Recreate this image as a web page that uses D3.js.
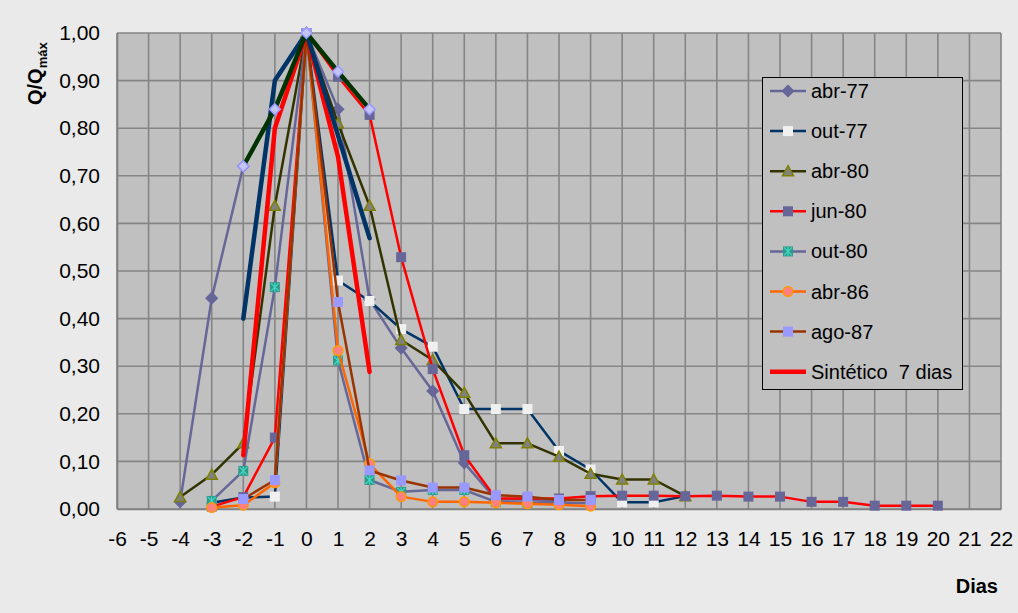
<!DOCTYPE html>
<html><head><meta charset="utf-8">
<script src="https://cdn.jsdelivr.net/npm/d3@7"></script>
<style>
body{margin:0;background:#eaeaea}
svg{display:block}
text{font-family:"Liberation Sans",Arial,sans-serif;fill:#000}
</style>
</head><body>
<svg id="chart" width="1018" height="613"></svg>
<script>
// Ticks
const xTickValues = d3.range(-6, 23);
const yTickValues = d3.range(0, 11).map(i => i / 10);
const yTickLabels = ["0,00","0,10","0,20","0,30","0,40","0,50","0,60","0,70","0,80","0,90","1,00"];

// Dimensionless hydrographs Q/Qmáx by day relative to the peak
const abr77Days = [-4,-3,-2,-1,0,1,2,3,4,5,6,7,8];
const abr77 = [0.015,0.443,0.72,0.84,1,0.84,0.44,0.338,0.248,0.097,0.02,0.02,0.015];

const out77Days = [-3,-2,-1,0,1,2,3,4,5,6,7,8,9,10,11,12];
const out77 = [0.013,0.024,0.026,1,0.48,0.437,0.378,0.341,0.21,0.21,0.21,0.122,0.083,0.014,0.014,0.027];

const abr80Days = [-4,-3,-2,-1,0,1,2,3,4,5,6,7,8,9,10,11,12];
const abr80 = [0.025,0.072,0.138,0.637,1,0.81,0.637,0.355,0.313,0.244,0.138,0.138,0.11,0.074,0.062,0.062,0.027];

const jun80Days = [-3,-2,-1,0,1,2,3,4,5,6,7,8,9,10,11,12,13,14,15,16,17,18,19,20];
const jun80 = [0.005,0.025,0.15,1,0.908,0.828,0.529,0.294,0.113,0.022,0.022,0.022,0.027,0.028,0.028,0.027,0.028,0.026,0.026,0.015,0.015,0.007,0.007,0.007];

const out80Days = [-3,-2,-1,0,1,2,3,4,5,6,7,8,9];
const out80 = [0.017,0.08,0.466,1,0.312,0.061,0.036,0.04,0.04,0.015,0.013,0.013,0.012];

const abr86Days = [-3,-2,-1,0,1,2,3,4,5,6,7,8,9];
const abr86 = [0.003,0.008,0.055,1,0.333,0.095,0.026,0.015,0.015,0.013,0.011,0.009,0.006];

const ago87Days = [-2,-1,0,1,2,3,4,5,6,7,8,9];
const ago87 = [0.021,0.061,1,0.435,0.081,0.06,0.045,0.045,0.029,0.026,0.019,0.019];

// Synthetic hydrographs
const sint7Days = [-2,-1,0,1,2];
const sint7 = [0.113,0.80,1,0.74,0.288];
const sintVerdeDays = [-2,-1,0,1,2];
const sintVerde = [0.72,0.84,1,0.919,0.84];
const sintAzulDays = [-2,-1,0,1,2];
const sintAzul = [0.40,0.90,1,0.785,0.569];

const series = [
  {name:"abr-77", days:abr77Days, vals:abr77, color:"#666699", width:2.5, marker:"diamond", fill:"#666699", stroke:"#666699", legend:true},
  {name:"out-77", days:out77Days, vals:out77, color:"#003366", width:2.5, marker:"square", fill:"#f0f0f0", stroke:"#f0f0f0", legend:true},
  {name:"abr-80", days:abr80Days, vals:abr80, color:"#333300", width:2.5, marker:"triangle", fill:"#808080", stroke:"#808000", legend:true},
  {name:"jun-80", days:jun80Days, vals:jun80, color:"#ff0000", width:2.5, marker:"square", fill:"#666699", stroke:"#666699", legend:true},
  {name:"out-80", days:out80Days, vals:out80, color:"#666699", width:2.5, marker:"star", fill:"#2f9a88", stroke:"#40d8c8", legend:true},
  {name:"abr-86", days:abr86Days, vals:abr86, color:"#ff6600", width:2.5, marker:"circle", fill:"#ff8080", stroke:"#ff9900", legend:true},
  {name:"ago-87", days:ago87Days, vals:ago87, color:"#993300", width:2.5, marker:"square", fill:"#9999ff", stroke:"#9999ff", legend:true},
  {name:"Sintético  7 dias", days:sint7Days, vals:sint7, color:"#ff0000", width:4.5, marker:null, legend:true},
  {name:"", days:sintAzulDays, vals:sintAzul, color:"#003366", width:4.5, marker:null, legend:false},
  {name:"", days:sintVerdeDays, vals:sintVerde, color:"#003300", width:4.5, marker:"diamond", fill:"#c4c4f4", stroke:"#9999ff", legend:false}
];

const svg = d3.select("#chart");
const W = 1018, H = 613;
const plot = {left:117, top:33, right:1001, bottom:509};

svg.append("rect").attr("width", W).attr("height", H).attr("fill", "#eaeaea");

const x = d3.scaleLinear().domain([-6, 22]).range([plot.left, plot.right]);
const y = d3.scaleLinear().domain([0, 1]).range([plot.bottom, plot.top]);

// Plot area
svg.append("rect")
  .attr("x", plot.left).attr("y", plot.top)
  .attr("width", plot.right - plot.left).attr("height", plot.bottom - plot.top)
  .attr("fill", "#c0c0c0");

// Gridlines
const grid = svg.append("g").attr("stroke", "#858585").attr("stroke-width", 1.6);
grid.selectAll("line.v").data(xTickValues).join("line")
  .attr("x1", d => x(d)).attr("x2", d => x(d))
  .attr("y1", plot.top).attr("y2", plot.bottom);
grid.selectAll("line.h").data(yTickValues).join("line")
  .attr("x1", plot.left).attr("x2", plot.right)
  .attr("y1", d => y(d)).attr("y2", d => y(d));

// Axes
const xAxis = d3.axisBottom(x).tickValues(xTickValues).tickSize(0).tickPadding(22)
  .tickFormat(d => String(d));
const gx = svg.append("g").attr("transform", `translate(0,${plot.bottom})`).call(xAxis);
gx.select(".domain").attr("stroke", "#808080").attr("stroke-width", 1.6);
gx.selectAll("text").attr("font-size", 21).attr("fill", "#000")
  .attr("font-family", "'Liberation Sans', Arial, sans-serif");

const yAxis = d3.axisLeft(y).tickValues(yTickValues).tickSize(0).tickPadding(17)
  .tickFormat((d, i) => yTickLabels[i]);
const gy = svg.append("g").attr("transform", `translate(${plot.left},0)`).call(yAxis);
gy.select(".domain").attr("stroke", "#808080").attr("stroke-width", 1.6);
gy.selectAll("text").attr("font-size", 21).attr("fill", "#000")
  .attr("font-family", "'Liberation Sans', Arial, sans-serif");

// Axis titles
svg.append("text").attr("x", 998).attr("y", 593).attr("text-anchor", "end")
  .attr("font-size", 20).attr("font-weight", "bold").text("Dias");

const yt = svg.append("text")
  .attr("transform", "translate(42,105) rotate(-90)")
  .attr("font-size", 20).attr("font-weight", "bold");
yt.append("tspan").text("Q/Q");
yt.append("tspan").attr("font-size", 13).attr("dy", 5).text("máx");

// Marker shapes
function drawMarker(g, type, fill, stroke) {
  if (type === "square") {
    g.append("rect").attr("x", -5).attr("y", -5).attr("width", 10).attr("height", 10)
      .attr("fill", fill);
  } else if (type === "diamond") {
    g.append("path").attr("d", "M0,-5.5L5.5,0L0,5.5L-5.5,0Z")
      .attr("fill", fill).attr("stroke", stroke).attr("stroke-width", 1.5);
  } else if (type === "triangle") {
    g.append("path").attr("d", "M0,-5.5L5.5,4.5L-5.5,4.5Z")
      .attr("fill", fill).attr("stroke", stroke).attr("stroke-width", 1.5);
  } else if (type === "circle") {
    g.append("circle").attr("r", 4.8)
      .attr("fill", fill).attr("stroke", stroke).attr("stroke-width", 1.5);
  } else if (type === "star") {
    g.append("rect").attr("x", -5).attr("y", -5).attr("width", 10).attr("height", 10).attr("fill", fill);
    g.append("path").attr("d", "M-4,-4L4,4M-4,4L4,-4M0,-4.5L0,4.5")
      .attr("stroke", stroke).attr("stroke-width", 1.2).attr("fill", "none");
  }
}

const line = d3.line().x(d => x(d[0])).y(d => y(d[1]));

// Series: line then markers, in order
series.forEach(s => {
  const pts = s.days.map((d, i) => [d, s.vals[i]]);
  const g = svg.append("g");
  g.append("path").datum(pts).attr("d", line)
    .attr("fill", "none").attr("stroke", s.color).attr("stroke-width", s.width)
    .attr("stroke-linejoin", "round").attr("stroke-linecap", "round");
  if (s.marker) {
    g.selectAll("g.m").data(pts).join("g")
      .attr("transform", d => `translate(${x(d[0])},${y(d[1])})`)
      .each(function() { drawMarker(d3.select(this), s.marker, s.fill, s.stroke); });
  }
});

// Legend
const legendItems = series.filter(s => s.legend);
const lg = svg.append("g");
lg.append("rect").attr("x", 762.5).attr("y", 77.5).attr("width", 200).attr("height", 312)
  .attr("fill", "#c0c0c0").attr("stroke", "#000").attr("stroke-width", 1);
legendItems.forEach((s, i) => {
  const cy = 91 + i * 40.1;
  const row = lg.append("g").attr("transform", `translate(0,${cy})`);
  row.append("line").attr("x1", 770).attr("x2", 806).attr("y1", 0).attr("y2", 0)
    .attr("stroke", s.color).attr("stroke-width", s.width);
  if (s.marker) {
    const m = row.append("g").attr("transform", "translate(788,0)");
    drawMarker(m, s.marker, s.fill, s.stroke);
  }
  row.append("text").attr("x", 811).attr("y", 7).attr("font-size", 20)
    .attr("xml:space", "preserve").style("white-space", "pre").text(s.name);
});
</script>
</body></html>
